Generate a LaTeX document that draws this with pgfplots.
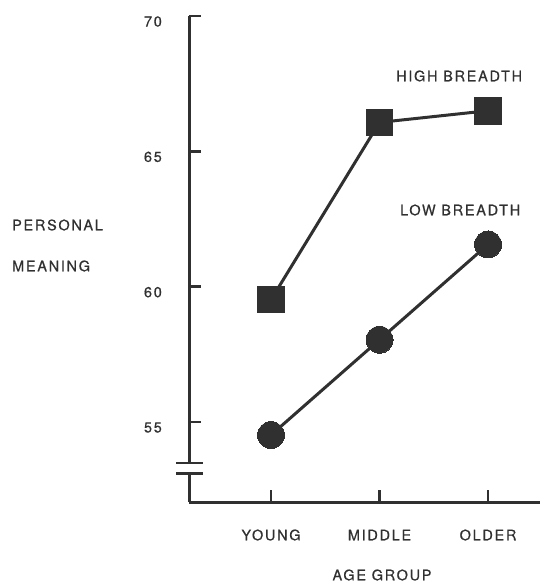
\documentclass[border=0pt]{standalone}
\usepackage{pgfplots}
\pgfplotsset{compat=1.18}
\usepackage{fontspec}
\setmainfont{TeX Gyre Heros}
\newfontfamily\lab{TeX Gyre Heros}[LetterSpace=12, FakeBold=0.6]
\definecolor{ink}{HTML}{303030}
\begin{document}
\begin{tikzpicture}[x=1bp,y=1bp]
\path (0,0) rectangle (540,-582);
\begin{axis}[
  at={(189bp,-502bp)}, anchor=south west,
  scale only axis, width=351bp, height=486bp,
  xmin=0.2442, xmax=3.479, ymin=52.045, ymax=70,
  axis x line=bottom, axis y line=left,
  axis line style={-, line width=3bp, ink},
  xtick={1,2,3}, xticklabels={YOUNG,MIDDLE,OLDER},
  ytick={55,60,65,70},
  tick align=inside, major tick length=12bp,
  tick style={line width=2.4bp, ink},
  /pgf/number format/assume math mode=true,
  xticklabel style={font=\lab\fontsize{14.5}{16}\selectfont, text=ink, inner sep=0pt, anchor=center, yshift=-33bp},
  yticklabel style={font=\lab\fontsize{14.5}{16}\selectfont, text=ink, inner sep=0pt, anchor=east, xshift=-27bp, yshift=-5.5bp},
  clip=false,
]
\addplot[ink, line width=3bp, mark=square*, mark size=13.3bp, mark options={fill=ink, draw=ink, line width=0pt}]
  coordinates {(1,59.52) (2,66.07) (3,66.5)};
\addplot[ink, line width=3bp, mark=*, mark size=13.5bp, mark options={fill=ink, draw=ink, line width=0pt}]
  coordinates {(1,54.52) (2,58.04) (3,61.56)};
\end{axis}
\fill[white] (185,-463) rectangle (193,-473);
\draw[ink, line width=2.6bp] (176,-463) -- (203,-463);
\draw[ink, line width=2.6bp] (176,-473.5) -- (203,-473.5);
\begin{scope}[every node/.style={font=\lab\fontsize{14.5}{16}\selectfont, text=ink, inner sep=0pt}]
\node[anchor=west] at (396,-76) {HIGH BREADTH};
\node[anchor=west] at (400,-210) {LOW BREADTH};
\node[anchor=west] at (12,-225) {PERSONAL};
\node[anchor=west] at (12,-266) {MEANING};
\node at (382,-575) {AGE GROUP};
\end{scope}
\end{tikzpicture}
\end{document}
